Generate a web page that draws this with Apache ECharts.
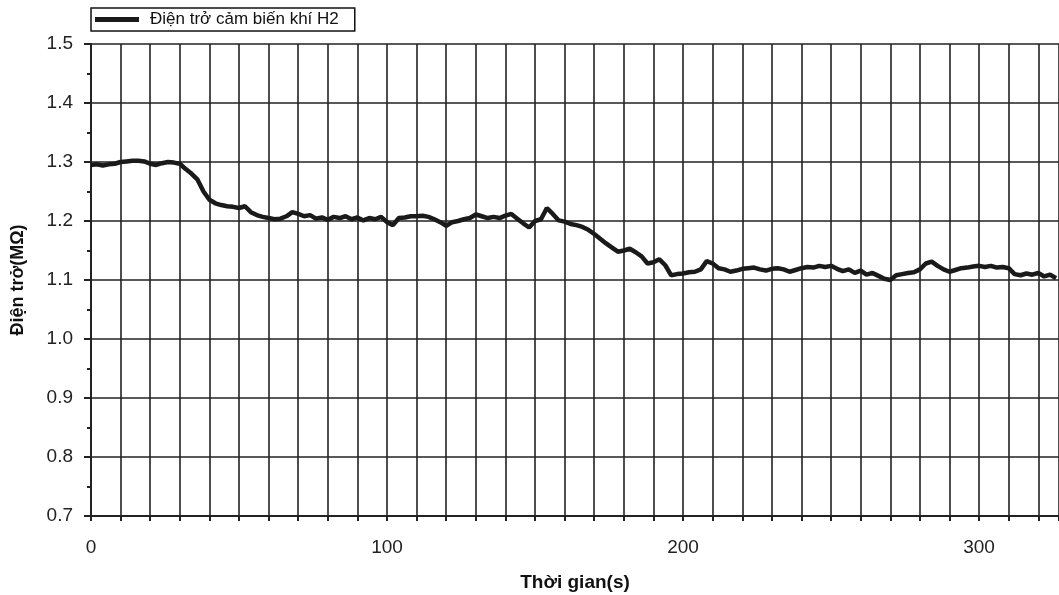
<!DOCTYPE html>
<html>
<head>
<meta charset="utf-8">
<script src="https://cdn.jsdelivr.net/npm/echarts@6/dist/echarts.min.js"></script>
<style>
  html, body { margin: 0; padding: 0; background: #fff; }
  #chart { width: 1059px; height: 595px; }
</style>
</head>
<body>
<div id="chart"></div>
<script>
// thoi gian (s), doc tu hinh moi 2s
const timeS = [];
for (let t = 0; t <= 326; t += 2) timeS.push(t);

// dien tro (MΩ)
const resistance = [
  1.295, 1.296, 1.294, 1.296, 1.297, 1.300, 1.301, 1.302, 1.302, 1.301,
  1.297, 1.295, 1.298, 1.300, 1.299, 1.297, 1.288, 1.280, 1.270, 1.250,
  1.236, 1.230, 1.227, 1.225, 1.224, 1.222, 1.225, 1.215, 1.210, 1.207,
  1.205, 1.203, 1.204, 1.208, 1.215, 1.212, 1.208, 1.210, 1.204, 1.206,
  1.202, 1.207, 1.205, 1.208, 1.203, 1.206, 1.201, 1.205, 1.203, 1.207,
  1.198, 1.193, 1.205, 1.206, 1.208, 1.208, 1.209, 1.207, 1.203, 1.198,
  1.192, 1.198, 1.200, 1.203, 1.205, 1.211, 1.208, 1.205, 1.207, 1.205,
  1.209, 1.212, 1.204, 1.196, 1.189, 1.200, 1.203, 1.222, 1.212, 1.201,
  1.199, 1.195, 1.193, 1.190, 1.185, 1.178, 1.170, 1.162, 1.155, 1.148,
  1.150, 1.153, 1.147, 1.140, 1.128, 1.130, 1.135, 1.125, 1.108, 1.110,
  1.111, 1.113, 1.114, 1.118, 1.132, 1.128, 1.120, 1.118, 1.114, 1.116,
  1.119, 1.120, 1.121, 1.118, 1.116, 1.119, 1.120, 1.118, 1.114, 1.117,
  1.120, 1.122, 1.121, 1.124, 1.122, 1.124, 1.119, 1.115, 1.118, 1.112,
  1.116, 1.109, 1.112, 1.107, 1.102, 1.100, 1.108, 1.110, 1.112, 1.113,
  1.118, 1.128, 1.131, 1.124, 1.118, 1.114, 1.117, 1.120, 1.121, 1.123,
  1.124, 1.122, 1.124, 1.121, 1.122, 1.120, 1.110, 1.108, 1.111, 1.109,
  1.112, 1.106, 1.109, 1.103
];

const xLabels = [0, 100, 200, 300];

const points = timeS.map((t, i) => [t, resistance[i]]);

const chart = echarts.init(document.getElementById('chart'));
chart.setOption({
  animation: false,
  textStyle: { fontFamily: 'Liberation Sans, Arial, sans-serif' },
  grid: { left: 91, right: 0, top: 44, bottom: 79, containLabel: false, outerBoundsMode: 'none' },
  legend: {
    left: 91, top: 8,
    itemWidth: 44, itemHeight: 5,
    itemGap: 0,
    itemStyle: { borderWidth: 0 },
    padding: [3, 16, 3, 4],
    borderColor: '#111', borderWidth: 1.5, borderRadius: 0,
    icon: 'rect',
    textStyle: { fontSize: 17, color: '#111', padding: [0, 0, 0, 6] },
    data: ['Điện trở cảm biến khí H2']
  },
  xAxis: {
    type: 'value',
    min: 0, max: 327, interval: 10,
    name: 'Thời gian(s)',
    nameLocation: 'middle', nameGap: 57,
    nameTextStyle: { fontSize: 19, fontWeight: 'bold', color: '#111' },
    axisLine: { lineStyle: { color: '#222', width: 2 } },
    axisTick: { length: 5, lineStyle: { color: '#222', width: 2 } },
    axisLabel: {
      fontSize: 19, color: '#222', margin: 22,
      formatter: v => xLabels.includes(v) ? String(v) : ''
    },
    splitLine: { show: true, lineStyle: { color: '#222', width: 1.6 } }
  },
  yAxis: {
    type: 'value',
    min: 0.7, max: 1.5, interval: 0.1,
    name: 'Điện trở(MΩ)',
    nameLocation: 'middle', nameGap: 64, nameRotate: 90,
    nameTextStyle: { fontSize: 18, fontWeight: 'bold', color: '#111' },
    axisLine: { show: true, lineStyle: { color: '#222', width: 2 } },
    axisTick: { show: true, length: 7, lineStyle: { color: '#222', width: 2 } },
    minorTick: { show: true, splitNumber: 2, length: 4, lineStyle: { color: '#222', width: 2 } },
    axisLabel: { fontSize: 19, color: '#222', margin: 18, formatter: v => v.toFixed(1) },
    splitLine: { show: true, lineStyle: { color: '#222', width: 1.6 } }
  },
  series: [{
    name: 'Điện trở cảm biến khí H2',
    type: 'line',
    data: points,
    showSymbol: false,
    color: '#1a1a1a',
    lineStyle: { width: 4.5, color: '#1a1a1a' }
  }]
});
</script>
</body>
</html>
